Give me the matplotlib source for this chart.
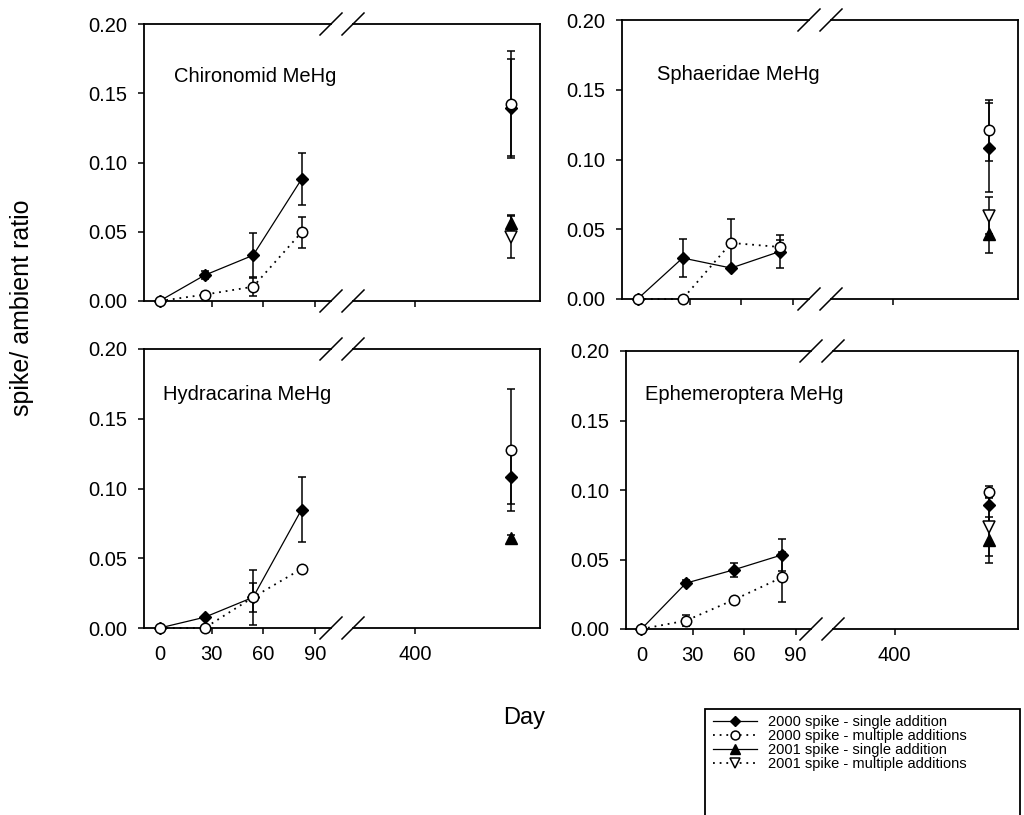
import numpy as np
import matplotlib
matplotlib.use("Agg")
import matplotlib.pyplot as plt
from matplotlib.lines import Line2D
from matplotlib.patches import Rectangle

plt.rcParams['font.family'] = ['Liberation Sans', 'DejaVu Sans']

# data
days = [0, 26, 54, 82]
late_day = 455
taxa = ["Chironomid MeHg", "Sphaeridae MeHg", "Hydracarina MeHg", "Ephemeroptera MeHg"]

single_2000 = [[0.0, 0.0186, 0.033, 0.088],
               [0.0, 0.0294, 0.0222, 0.034],
               [0.0, 0.0077, 0.022, 0.0849],
               [0.0, 0.033, 0.0426, 0.0533]]
single_2000_err = [[0, 0.003, 0.016, 0.019],
                   [0, 0.0138, 0, 0.012],
                   [0, 0, 0.0197, 0.023],
                   [0, 0.002, 0.005, 0.0115]]
single_2000_late = [0.139, 0.1084, 0.1084, 0.089]
single_2000_late_err = [0.036, 0.032, 0.0197, 0.012]

multi_2000 = [[0.0, 0.0046, 0.0103, 0.0496],
              [0.0, 0.0, 0.0402, 0.0373],
              [0.0, 0.0, 0.022, 0.0424],
              [0.0, 0.006, 0.021, 0.0371]]
multi_2000_err = [[0, 0.002, 0.0065, 0.011],
                  [0, 0, 0.017, 0.005],
                  [0, 0, 0.0104, 0],
                  [0, 0.004, 0, 0.018]]
multi_2000_late = [0.1425, 0.1208, 0.1276, 0.0988]
multi_2000_late_err = [0.038, 0.022, 0.044, 0.004]

single_2001_late = [0.0565, 0.0467, 0.0647, 0.0641]
single_2001_late_err = [0.0057, 0.014, 0.002, 0.0167]
multi_2001_late = [0.0464, 0.0598, np.nan, 0.0732]
multi_2001_late_err = [0.015, 0.013, np.nan, 0.021]

legend_labels = ["2000 spike - single addition", "2000 spike - multiple additions",
                 "2001 spike - single addition", "2001 spike - multiple additions"]

dots = (0, (1, 2.7))
st_s00 = dict(marker='D', ms=6.5, mfc='k', mec='k', color='k', ls='-', lw=0.9)
st_m00 = dict(marker='o', ms=7.5, mfc='white', mec='k', mew=1.1, color='k', ls=dots, lw=1.3)
st_s01 = dict(marker='^', ms=8, mfc='k', mec='k', color='k', ls='-', lw=0.9)
st_m01 = dict(marker='v', ms=8, mfc='white', mec='k', mew=1.1, color='k', ls=dots, lw=1.3)
eb = dict(fmt='none', ecolor='k', elinewidth=1.1, capsize=3, capthick=1.1, clip_on=False, zorder=2)

W, H = 1024, 815
fig = plt.figure(figsize=(W / 100, H / 100), dpi=100)

# panel boxes in pixels (left, top, right, bottom)
boxes = [(144, 24, 540, 301), (622, 20, 1018, 299),
         (144, 349, 540, 628), (626, 351, 1018, 629)]
title_pos = [(174, 76), (657, 75), (163, 394), (645, 394)]
gap = 22

for i, (L, T, R, B) in enumerate(boxes):
    w = (R - L - gap) / 2
    h = B - T
    ax1 = fig.add_axes([L / W, 1 - B / H, w / W, h / H])
    ax2 = fig.add_axes([(R - w) / W, 1 - B / H, w / W, h / H])

    # early sampling (left segment)
    ax1.errorbar(days, single_2000[i], yerr=single_2000_err[i], **eb)
    ax1.errorbar(days, multi_2000[i], yerr=multi_2000_err[i], **eb)
    ax1.plot(days, single_2000[i], clip_on=False, zorder=3, **st_s00)
    ax1.plot(days, multi_2000[i], clip_on=False, zorder=4, **st_m00)

    # late sampling (right segment)
    ax2.errorbar([late_day], [single_2000_late[i]], yerr=[single_2000_late_err[i]], **eb)
    ax2.errorbar([late_day], [multi_2000_late[i]], yerr=[multi_2000_late_err[i]], **eb)
    ax2.errorbar([late_day], [single_2001_late[i]], yerr=[single_2001_late_err[i]], **eb)
    ax2.errorbar([late_day], [multi_2001_late[i]], yerr=[multi_2001_late_err[i]], **eb)
    ax2.plot([late_day], [single_2000_late[i]], clip_on=False, zorder=3, **st_s00)
    ax2.plot([late_day], [multi_2000_late[i]], clip_on=False, zorder=4, **st_m00)
    ax2.plot([late_day], [single_2001_late[i]], clip_on=False, zorder=3, **st_s01)
    ax2.plot([late_day], [multi_2001_late[i]], clip_on=False, zorder=4, **st_m01)

    ax1.set_xlim(-9, 99)
    ax2.set_xlim(364, 472)
    for ax in (ax1, ax2):
        ax.set_ylim(0, 0.2)
        ax.set_facecolor('none')
        for sp in ax.spines.values():
            sp.set_linewidth(1.3)
        ax.tick_params(direction='out', length=4, width=1.1, labelsize=14.5, pad=8)
    ax1.spines['right'].set_visible(False)
    ax2.spines['left'].set_visible(False)

    ax1.set_yticks([0, 0.05, 0.10, 0.15, 0.20])
    ax1.set_yticklabels(["0.00", "0.05", "0.10", "0.15", "0.20"])
    ax2.set_yticks([])
    ax1.set_xticks([0, 30, 60, 90])
    ax2.set_xticks([400])
    if i < 2:
        ax1.tick_params(labelbottom=False)
        ax2.tick_params(labelbottom=False)

    # break marks
    dx, dy = 11 / w, 11 / h
    for ax, xe in ((ax1, 1), (ax2, 0)):
        for ye in (0, 1):
            ax.plot([xe - dx, xe + dx], [ye - dy, ye + dy], transform=ax.transAxes,
                    color='k', lw=1.1, clip_on=False)

    tx, ty = title_pos[i]
    fig.text(tx / W, 1 - ty / H, taxa[i], fontsize=14.5, ha='left', va='center')

fig.text(22 / W, 1 - 308 / H, "spike/ ambient ratio", rotation=90,
         fontsize=18, ha='center', va='center')
fig.text(524 / W, 1 - 718 / H, "Day", fontsize=17, ha='center', va='center')

# legend
fig.add_artist(Rectangle((705 / W, 0 - 0.01), 315 / W, 1 - 709 / H + 0.01,
                         transform=fig.transFigure, fill=False, ec='k', lw=1.3,
                         clip_on=False))
handles = [Line2D([], [], **st_s00), Line2D([], [], **st_m00),
           Line2D([], [], **st_s01), Line2D([], [], **st_m01)]
fig.legend(handles, legend_labels, loc='upper left',
           bbox_to_anchor=(713 / W, 1 - 715 / H), frameon=False, fontsize=10.5,
           borderpad=0, borderaxespad=0, handlelength=3.0, handletextpad=0.8,
           labelspacing=0.0, numpoints=1, markerscale=0.85)

fig.savefig("out.png", dpi=100)
